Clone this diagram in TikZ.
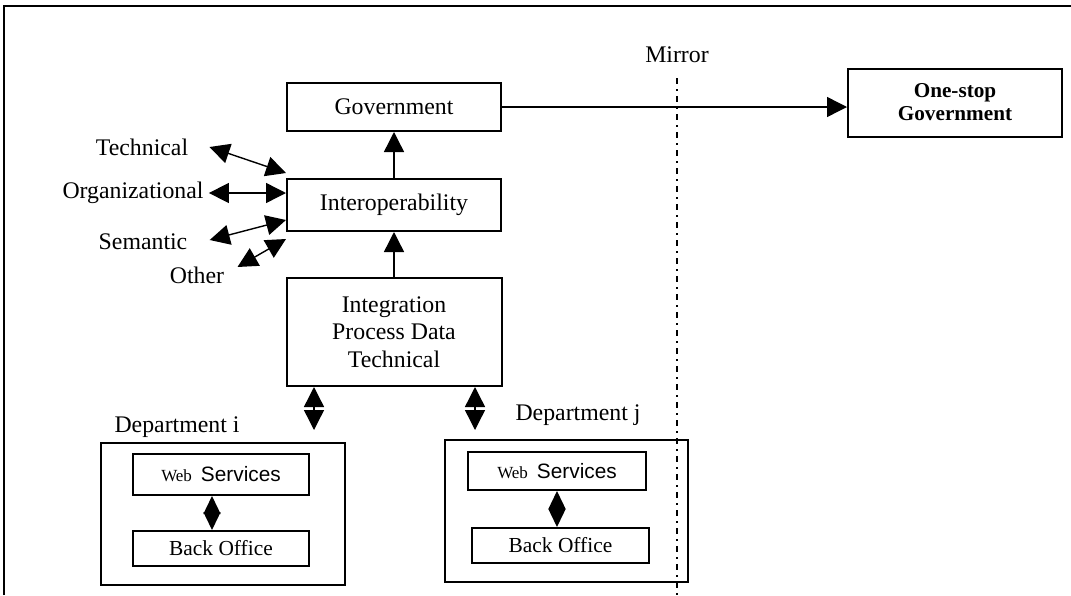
\documentclass[tikz,border=0pt]{standalone}
\usepackage{fontspec}
\setmainfont{Liberation Serif}
\newfontfamily\arialfont{Liberation Sans}
\usepackage{tikz}
\usetikzlibrary{arrows.meta, positioning}

\newcommand{\websvc}{{\fontsize{8.5}{10}\selectfont Web}\hspace{4.5pt}{\arialfont\fontsize{10.4}{12}\selectfont Services}}

\begin{document}
\begin{tikzpicture}[
  x=0.5pt, y=-0.5pt,
  font=\fontsize{11.9}{13.8}\selectfont,
  box/.style={rectangle, draw, line width=1pt, align=center, inner sep=2pt},
  lbl/.style={inner sep=0pt},
  tip/.style={-{Triangle[length=10pt, width=10pt]}, line width=0.7pt},
  dbl/.style={{Triangle[length=10pt, width=10pt]}-{Triangle[length=10pt, width=10pt]}, line width=0.7pt},
  ws/.style={{Triangle[length=9pt, width=8.5pt]}-{Triangle[length=9pt, width=8.5pt]}, line width=0.7pt},
  mirrorline/.style={line width=0.8pt, dash pattern=on 3pt off 2.5pt on 1pt off 2.5pt}
]
\useasboundingbox (0,0) rectangle (1071,595);

% Frame
\draw[line width=1pt] (4,595) -- (4,6) -- (1071,6);

% Main column
\node[box, minimum width=107pt, minimum height=24pt] (gov) at (394,107) {Government};
\node[box, minimum width=107pt, minimum height=26pt, below=23pt of gov] (interop) {Interoperability};
\node[box, minimum width=107.5pt, minimum height=54pt, below=22.5pt of interop] (integ) {Integration\\Process Data\\Technical};

% One-stop side
\node[box, minimum width=107pt, minimum height=34pt, font=\fontsize{10.6}{11.5}\selectfont\bfseries] (onestop) at (955,102.5) {One-stop\\Government};
\node[lbl] (mirror) at (677,55) {Mirror};
\coordinate (mbot) at (677,595);

% Interoperability kinds
\node[lbl] (tech) at (142,147) {Technical};
\node[lbl] (org) at (133,193) {Organizational};
\node[lbl] (sem) at (143,242) {Semantic};
\node[lbl] (other) at (197,275) {Other};

% Departments
\node[lbl] (labi) at (177,427) {Department i};
\node[box, minimum width=122pt, minimum height=71pt] (depti) at (223,514) {};
\node[box, minimum width=88pt, minimum height=20.5pt] (webi) at (221,474.5) {\websvc};
\node[box, minimum width=88pt, minimum height=17.5pt, font=\fontsize{10.7}{12.5}\selectfont] (backi) at (221,548.5) {Back Office};

\node[lbl] (labj) at (578,415) {Department j};
\node[box, minimum width=121.5pt, minimum height=71pt] (deptj) at (566.5,511) {};
\node[box, minimum width=89pt, minimum height=19pt] (webj) at (557,471) {\websvc};
\node[box, minimum width=88.5pt, minimum height=17.5pt, font=\fontsize{10.7}{12.5}\selectfont] (backj) at (560.5,545.5) {Back Office};

\coordinate (toi) at (314,430);
\coordinate (toj) at (475,430);

% Arrows
\draw[tip] (gov.east) -- (gov.east -| onestop.west);
\draw[mirrorline, shorten <=7.5pt] (mirror.south) -- (mbot);
\draw[tip] (interop.north) -- (gov.south);
\draw[tip] (integ.north) -- (interop.south);

\draw[dbl] ([xshift=10.5pt]tech.east) -- ([yshift=2.5pt]interop.north west);
\draw[dbl] ([xshift=2.5pt]org.east) -- (org.east -| interop.west);
\draw[dbl] ([xshift=11pt, yshift=1pt]sem.east) -- ([yshift=-7.5pt]interop.west);
\draw[dbl] ([xshift=6.5pt, yshift=4pt]other.east) -- ([yshift=-3.5pt]interop.south west);

\draw[dbl] (toi |- integ.south) -- (toi);
\draw[dbl] (toj |- integ.south) -- (toj);

\draw[ws] ([xshift=-4.5pt]webi.south) -- ([xshift=-4.5pt]webi.south |- backi.north);
\draw[ws] (webj.south) -- (webj.south |- backj.north);

\end{tikzpicture}
\end{document}
